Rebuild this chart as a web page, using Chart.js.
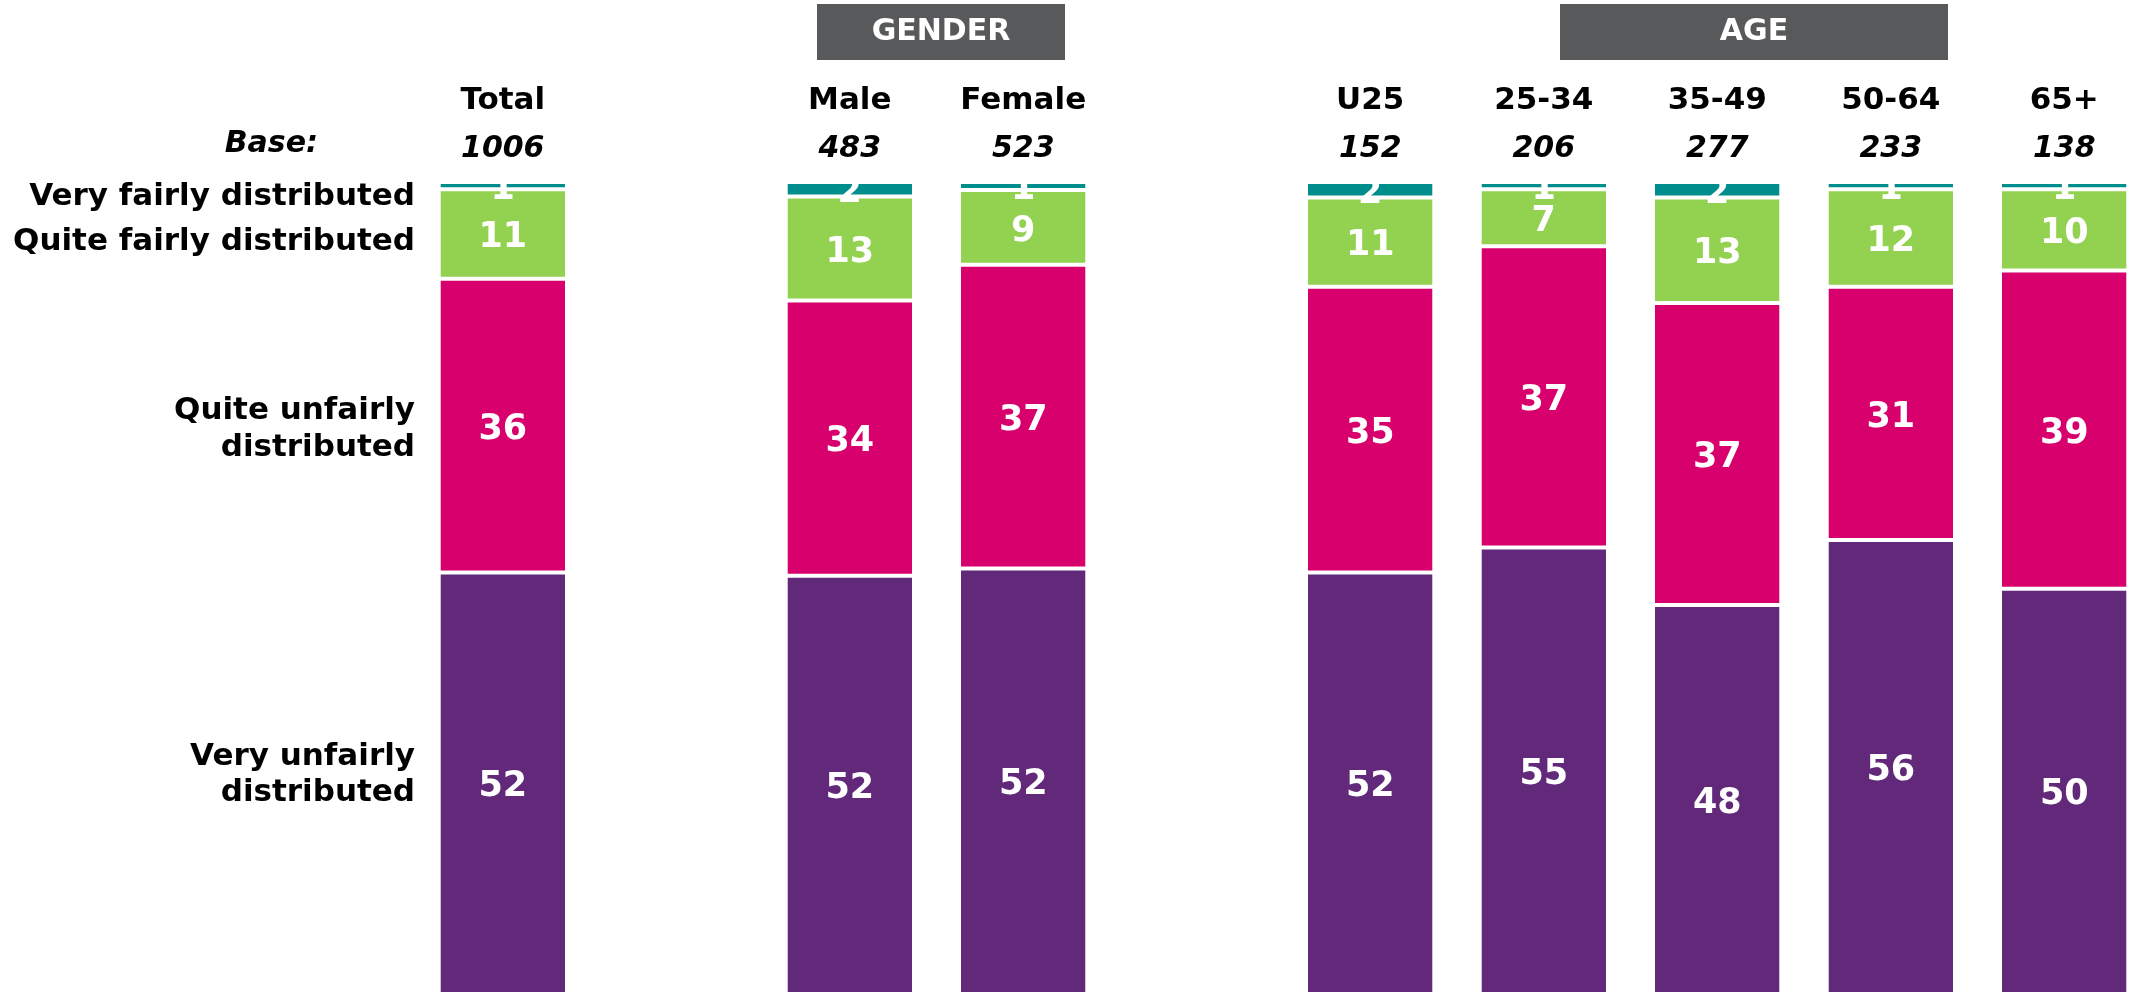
<!DOCTYPE html>
<html>
<head>
<meta charset="utf-8">
<script src="https://cdn.jsdelivr.net/npm/chart.js@4"></script>
<style>
    html, body { margin: 0; padding: 0; background: #fff; overflow: hidden; }
    #wrap { position: relative; width: 2133px; height: 1002px; overflow: hidden; }
    #chart { position: absolute; left: 0; top: 0; }
</style>
</head>
<body>
<div id="wrap"><canvas id="chart" width="2160" height="1002"></canvas></div>
<script>
const categories = ["Total", "", "Male", "Female", "", "U25", "25-34", "35-49", "50-64", "65+"];
const bases      = ["1006", "", "483", "523", "", "152", "206", "277", "233", "138"];

const veryUnfair  = [51.9, null, 51.5, 52.4, null, 51.9, 55.0, 47.9, 55.9, 49.9];
const quiteUnfair = [36.2, null, 33.9, 37.4, null, 35.2, 37.1, 37.2, 31.2, 39.2];
const quiteFair   = [11.0, null, 12.8,  9.2, null, 11.0,  7.0, 13.0, 12.0, 10.0];
const veryFair    = [ 0.9, null,  1.8,  1.0, null,  1.9,  0.9,  1.9,  0.9,  0.9];

const seriesNames = ["Very unfairly distributed", "Quite unfairly distributed",
                     "Quite fairly distributed", "Very fairly distributed"];

const FONT = "'DejaVu Sans', Verdana, sans-serif";

function makeSet(label, data, color) {
    return {
        label,
        data,
        backgroundColor: color,
        borderColor: "#ffffff",
        borderWidth: { top: 2, bottom: 2, left: 0, right: 0 },
        borderSkipped: false,
        categoryPercentage: 1.0,
        barPercentage: 0.718,
    };
}

// white value labels, centred in each segment, painted over everything
const valueLabels = {
    id: "valueLabels",
    afterDatasetsDraw(chart) {
        const ctx = chart.ctx;
        ctx.save();
        ctx.fillStyle = "#ffffff";
        ctx.font = "bold 35px " + FONT;
        ctx.textAlign = "center";
        ctx.textBaseline = "middle";
        chart.data.datasets.forEach((ds, i) => {
            chart.getDatasetMeta(i).data.forEach((bar, j) => {
                const v = ds.data[j];
                if (v == null) return;
                const y = (bar.y + bar.base) / 2;
                ctx.fillText(String(Math.round(v)), bar.x, y + 4);
            });
        });
        ctx.restore();
    },
};

// headers, column names, bases and row labels
const textLayer = {
    id: "textLayer",
    afterDraw(chart) {
        const ctx = chart.ctx;
        const x = chart.scales.x;
        ctx.save();

        // group boxes
        const boxes = [["GENDER", 817, 1065], ["AGE", 1560, 1948]];
        boxes.forEach(([txt, l, r]) => {
            ctx.fillStyle = "#58595b";
            ctx.fillRect(l, 4, r - l, 56);
            ctx.fillStyle = "#ffffff";
            ctx.font = "bold 30px " + FONT;
            ctx.textAlign = "center";
            ctx.textBaseline = "middle";
            ctx.fillText(txt, (l + r) / 2, 32);
        });

        ctx.fillStyle = "#000000";
        ctx.textAlign = "center";
        ctx.textBaseline = "middle";
        categories.forEach((c, i) => {
            if (!c) return;
            const px = x.getPixelForValue(i);
            ctx.font = "bold 31px " + FONT;
            ctx.fillText(c, px, 101);
            ctx.font = "italic bold 30px " + FONT;
            ctx.fillText(bases[i], px, 149);
        });

        ctx.textAlign = "right";
        ctx.font = "italic bold 30px " + FONT;
        ctx.fillText("Base:", 318, 144);

        ctx.font = "bold 31px " + FONT;
        const rows = [
            ["Very fairly distributed", 197],
            ["Quite fairly distributed", 242],
            ["Quite unfairly", 411],
            ["distributed", 448],
            ["Very unfairly", 757],
            ["distributed", 793],
        ];
        rows.forEach(([t, y]) => ctx.fillText(t, 415, y));
        ctx.restore();
    },
};

new Chart(document.getElementById("chart"), {
    type: "bar",
    data: {
        labels: categories,
        datasets: [
            makeSet(seriesNames[0], veryUnfair,  "#62287a"),
            makeSet(seriesNames[1], quiteUnfair, "#d8006d"),
            makeSet(seriesNames[2], quiteFair,   "#93d150"),
            makeSet(seriesNames[3], veryFair,    "#008e8c"),
        ],
    },
    options: {
        responsive: false,
        animation: false,
        layout: { padding: { left: 416, right: 9, top: 182, bottom: 8 } },
        scales: {
            x: { stacked: true, display: false },
            y: { stacked: true, display: false, min: 0, max: 100 },
        },
        plugins: { legend: { display: false }, tooltip: { enabled: false } },
    },
    plugins: [valueLabels, textLayer],
});
</script>
</body>
</html>
